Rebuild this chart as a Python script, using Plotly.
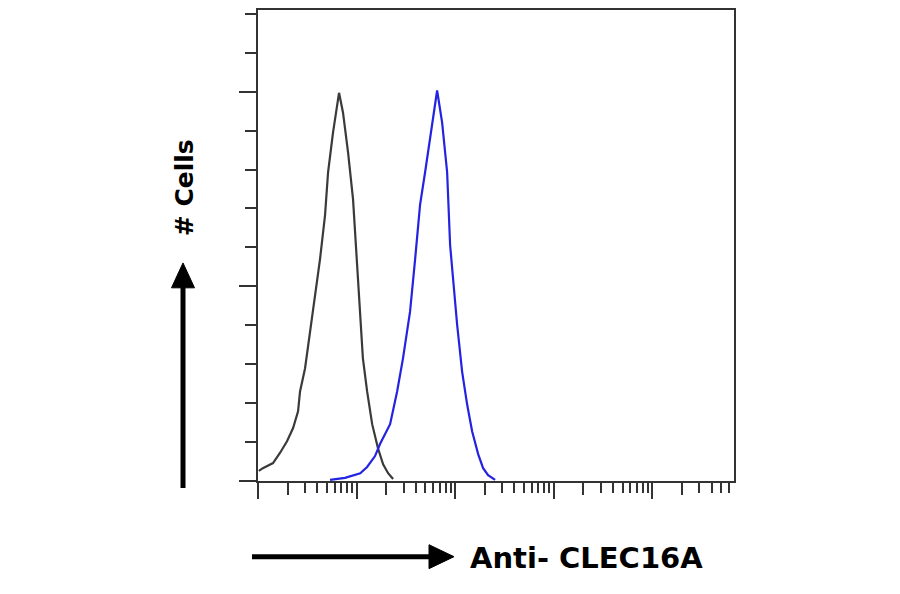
import plotly.graph_objects as go

# Data (fluorescence intensity, cell count)
control_x = [1.02, 1.12, 1.42, 1.67, 1.97, 2.27, 2.55, 2.67, 3.00, 3.22, 3.53, 3.97, 4.26, 4.79,
             5.14, 5.77, 6.49, 6.64, 7.29, 8.20, 9.21, 10.1, 10.9, 11.6, 12.8, 14.4, 16.5, 18.6,
             20.9, 23.5]
control_y = [2.6, 3.3, 4.6, 7.2, 10.2, 13.6, 17.9, 23.0, 28.9, 34.5, 43.0, 51.2, 57.0, 68.3,
             79.3, 89.5, 98.0, 99.7, 94.6, 84.4, 72.4, 57.0, 43.5, 31.5, 23.0, 14.6, 8.4, 4.3,
             2.0, 0.5]

clec_x = [5.38, 7.64, 10.9, 12.8, 15.4, 17.3, 21.9, 25.8, 29.6, 34.9, 39.3, 44.1, 49.6, 58.4,
          64.2, 65.7, 73.8, 83.0, 89.0, 95.5, 104.8, 117.8, 132.4, 148.8, 171.3, 192.4, 216.3,
          254.7]
clec_y = [0.3, 0.8, 2.0, 3.6, 6.4, 9.5, 14.6, 23.0, 31.5, 43.5, 57.0, 70.9, 79.3, 91.3,
          98.0, 100.3, 92.1, 79.3, 60.6, 51.9, 40.2, 28.1, 19.7, 12.8, 6.9, 3.3, 1.5, 0.3]

decades = [1, 10, 100, 1000, 10000]
minor_x = [d * k for d in decades for k in range(2, 10) if d * k < 70000]
mid_x = [2 * d for d in decades]
y_major = [0, 50, 100]
y_minor = [10, 20, 30, 40, 60, 70, 80, 90, 110, 120]

x_label = "Anti- CLEC16A"
y_label = "# Cells"

# page offset (browser body margin) and plot-area geometry in screen pixels
OFF = 8
L, R, T, B = 258, 734, 8, 481
W, H = 900, 594


def px(x):
    return (x - L) / (R - L)


def py(y):
    return (B - y) / (B - T)


fig = go.Figure()
fig.add_trace(go.Scatter(x=control_x, y=control_y, mode="lines",
                         line=dict(color="#3a3a3a", width=2.2), showlegend=False))
fig.add_trace(go.Scatter(x=clec_x, y=clec_y, mode="lines",
                         line=dict(color="rgb(35,35,225)", width=2.2), showlegend=False))

axis_col = "#333333"
fig.update_layout(
    width=W, height=H,
    margin=dict(l=L - OFF, r=W - (R - OFF), t=T - OFF, b=H - (B - OFF)),
    paper_bgcolor="white", plot_bgcolor="white",
    showlegend=False,
    xaxis=dict(type="log", range=[0, 4.83], showgrid=False, zeroline=False,
               showline=True, linecolor=axis_col, linewidth=2, mirror=True,
               tickmode="array", tickvals=decades, ticks="outside", ticklen=16,
               tickwidth=2, tickcolor=axis_col, showticklabels=False,
               minor=dict(tickmode="array", tickvals=minor_x, ticks="outside",
                          ticklen=10, tickwidth=2, tickcolor=axis_col, showgrid=False)),
    xaxis2=dict(type="log", overlaying="x", matches="x", side="bottom", range=[0, 4.83],
                showgrid=False, zeroline=False, showline=False,
                tickmode="array", tickvals=mid_x, ticks="outside", ticklen=13,
                tickwidth=2, tickcolor=axis_col, showticklabels=False),
    yaxis=dict(range=[0, 120.97], showgrid=False, zeroline=False,
               showline=True, linecolor=axis_col, linewidth=2, mirror=True,
               tickmode="array", tickvals=y_major, ticks="outside", ticklen=17,
               tickwidth=2, tickcolor=axis_col, showticklabels=False,
               minor=dict(tickmode="array", tickvals=y_minor, ticks="outside",
                          ticklen=11, tickwidth=2, tickcolor=axis_col, showgrid=False)),
)
# invisible trace to activate xaxis2
fig.add_trace(go.Scatter(x=[10], y=[0], xaxis="x2", mode="markers",
                         marker=dict(opacity=0), showlegend=False, hoverinfo="skip"))

# arrows
shapes = []
shapes.append(dict(type="line", xref="paper", yref="paper",
                   x0=px(183), x1=px(183), y0=py(488), y1=py(282),
                   line=dict(color="black", width=5)))
shapes.append(dict(type="path", xref="paper", yref="paper",
                   path=f"M {px(183)} {py(262)} L {px(171.5)} {py(287)} L {px(194.5)} {py(287)} Z",
                   fillcolor="black", line=dict(color="black", width=1)))
shapes.append(dict(type="line", xref="paper", yref="paper",
                   x0=px(252), x1=px(432), y0=py(557), y1=py(557),
                   line=dict(color="black", width=5)))
shapes.append(dict(type="path", xref="paper", yref="paper",
                   path=f"M {px(454)} {py(557)} L {px(429)} {py(545)} L {px(429)} {py(569)} Z",
                   fillcolor="black", line=dict(color="black", width=1)))
fig.update_layout(shapes=shapes)

fig.add_annotation(text=f"<b>{y_label}</b>", xref="paper", yref="paper",
                   x=px(184), y=py(187), textangle=-90, showarrow=False,
                   xanchor="center", yanchor="middle",
                   font=dict(family="DejaVu Sans", size=25, color="black"))
fig.add_annotation(text=f"<b>{x_label}</b>", xref="paper", yref="paper",
                   x=px(468), y=py(558), showarrow=False,
                   xanchor="left", yanchor="middle",
                   font=dict(family="DejaVu Sans", size=29, color="black"))

fig.write_html("out.html")
